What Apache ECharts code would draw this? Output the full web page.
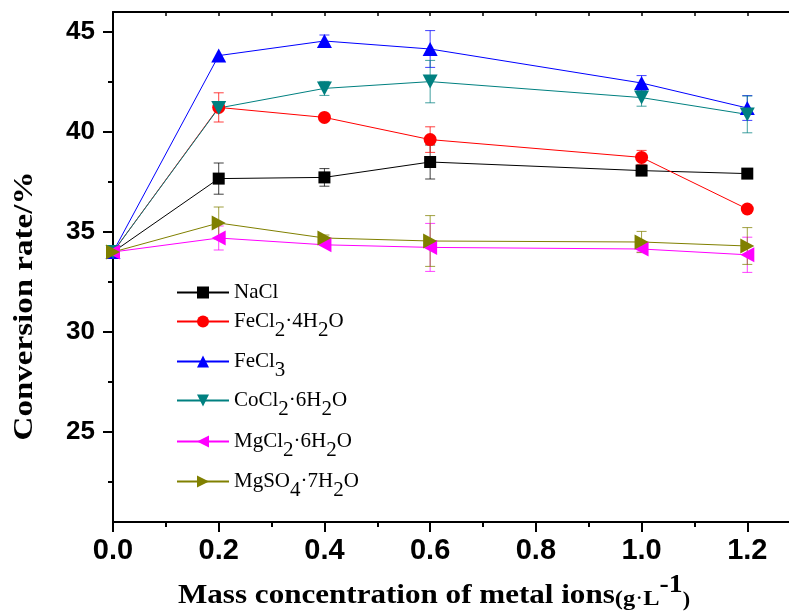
<!DOCTYPE html>
<html>
<head>
<meta charset="utf-8">
<script src="https://cdn.jsdelivr.net/npm/echarts@6/dist/echarts.min.js"></script>
<style>
  html, body { margin: 0; padding: 0; background: #ffffff; }
  #chart { width: 789px; height: 611px; }
</style>
</head>
<body>
<div id="chart"></div>
<script>
// Mass concentration of metal ions (g·L-1)
const concentrations = [0, 0.2, 0.4, 0.6, 1.0, 1.2];

// Salt names (digits after a letter are drawn as subscripts)
const saltNames = ['NaCl', 'FeCl2·4H2O', 'FeCl3', 'CoCl2·6H2O', 'MgCl2·6H2O', 'MgSO4·7H2O'];

// Conversion rate (%)
const naclRate  = [34.0, 37.67, 37.73, 38.50, 38.07, 37.92];
const fecl2Rate = [34.0, 41.23, 40.73, 39.62, 38.73, 36.15];
const fecl3Rate = [34.0, 43.82, 44.55, 44.15, 42.45, 41.20];
const cocl2Rate = [34.0, 41.20, 42.18, 42.52, 41.72, 40.88];
const mgcl2Rate = [34.0, 34.70, 34.36, 34.23, 34.15, 33.86];
const mgso4Rate = [34.0, 35.45, 34.70, 34.55, 34.50, 34.30];

// Standard deviations (null = no error bar)
const naclErr  = [null, 0.78, 0.44, 0.85, null, null];
const fecl2Err = [null, 0.73, null, 0.64, 0.35, null];
const fecl3Err = [null, null, 0.30, 0.92, 0.37, 0.62];
const cocl2Err = [null, null, 0.35, 1.06, 0.43, 0.92];
const mgcl2Err = [null, 0.60, null, 1.20, 0.15, 0.88];
const mgso4Err = [null, 0.80, 0.15, 1.27, 0.53, 0.92];

const rates  = [naclRate, fecl2Rate, fecl3Rate, cocl2Rate, mgcl2Rate, mgso4Rate];
const errors = [naclErr, fecl2Err, fecl3Err, cocl2Err, mgcl2Err, mgso4Err];

const colors = ['#000000', '#ff0000', '#0000ff', '#008080', '#ff00ff', '#808000'];
const symbols = ['rect', 'circle', 'triangle', 'triangle', 'triangle', 'triangle'];
const symbolRotations = [0, 0, 0, 180, 90, -90];
const symbolSizes = [12, 13, [15, 14], [15, 14], [15, 14], [15, 14]];

const SERIF = '"Liberation Serif", "Times New Roman", serif';
const SANS = '"Liberation Sans", Arial, sans-serif';

// Turn "FeCl2·4H2O" into rich text with subscript digits
function richName(name) {
  let out = '';
  let buf = '';
  for (let i = 0; i < name.length; i++) {
    const c = name[i];
    const prev = i > 0 ? name[i - 1] : '';
    if (/[0-9]/.test(c) && /[A-Za-z]/.test(prev)) {
      if (buf) { out += '{n|' + buf + '}'; buf = ''; }
      out += '{s|' + c + '}';
    } else {
      buf += c;
    }
  }
  if (buf) out += '{n|' + buf + '}';
  return out;
}
function hasSub(name) { return /[A-Za-z][0-9]/.test(name); }

const legendRich = {
  n: { fontSize: 21, fontFamily: SERIF, color: '#000', lineHeight: 24, verticalAlign: 'middle' },
  s: { fontSize: 21, fontFamily: SERIF, color: '#000', lineHeight: 24, verticalAlign: 'middle', padding: [18, 0, 0, 0] }
};

// Legend rows (icon centre y)
const legendRowY = [294, 323, 363, 402, 443, 483];
const legends = saltNames.map((name, i) => ({
  data: [name],
  left: 176,
  top: legendRowY[i] - (hasSub(name) ? 21 : 12),
  padding: 0,
  itemWidth: 52,
  itemHeight: 15,
  selectedMode: false,
  formatter: richName,
  textStyle: { rich: legendRich }
}));

const lineSeries = saltNames.map((name, i) => ({
  name: name,
  type: 'line',
  xAxisIndex: 0,
  yAxisIndex: 0,
  data: concentrations.map((x, k) => [x, rates[i][k]]),
  symbol: symbols[i],
  symbolSize: symbolSizes[i],
  symbolRotate: symbolRotations[i],
  showAllSymbol: true,
  color: colors[i],
  lineStyle: { width: 1, color: colors[i] },
  itemStyle: { color: colors[i] },
  z: 3,
  animation: false
}));

function errorBarItem(params, api) {
  const x = api.value(0), y = api.value(1), e = api.value(2);
  const top = api.coord([x, y + e]);
  const bot = api.coord([x, y - e]);
  const half = 5;
  const style = { stroke: api.visual('color'), lineWidth: 1, opacity: 0.75 };
  return {
    type: 'group',
    children: [
      { type: 'line', shape: { x1: top[0], y1: top[1], x2: bot[0], y2: bot[1] }, style: style },
      { type: 'line', shape: { x1: top[0] - half, y1: top[1], x2: top[0] + half, y2: top[1] }, style: style },
      { type: 'line', shape: { x1: bot[0] - half, y1: bot[1], x2: bot[0] + half, y2: bot[1] }, style: style }
    ]
  };
}

const errorSeries = saltNames.map((name, i) => ({
  name: name + ' error',
  type: 'custom',
  xAxisIndex: 0,
  yAxisIndex: 0,
  renderItem: errorBarItem,
  itemStyle: { color: colors[i] },
  data: concentrations
    .map((x, k) => [x, rates[i][k], errors[i][k]])
    .filter(d => d[2] !== null),
  z: 2,
  silent: true,
  animation: false
}));

const blackLine = { show: true, lineStyle: { color: '#000', width: 2 } };

const option = {
  backgroundColor: '#ffffff',
  animation: false,
  grid: [
    // plot area
    { left: 113, top: 12, height: 510, right: -64, outerBoundsMode: 'none', containLabel: false },
    // major y ticks and labels (25 … 45)
    { left: 113, top: 32, height: 400, width: 100, outerBoundsMode: 'none', containLabel: false },
    // minor y ticks (22.5 … 42.5)
    { left: 113, top: 82, height: 400, width: 100, outerBoundsMode: 'none', containLabel: false }
  ],
  xAxis: [
    {
      type: 'value', gridIndex: 0, position: 'bottom',
      min: 0, max: 1.4, interval: 0.2,
      axisLine: blackLine,
      axisTick: { show: true, inside: false, length: 10, lineStyle: { color: '#000', width: 2 } },
      minorTick: { show: true, splitNumber: 2, length: 5, lineStyle: { color: '#000', width: 2 } },
      axisLabel: {
        show: true, margin: 14, color: '#000', fontSize: 29, fontWeight: 'bold', fontFamily: SANS,
        showMaxLabel: false,
        formatter: v => v.toFixed(1)
      },
      splitLine: { show: false }, minorSplitLine: { show: false }
    },
    {
      type: 'value', gridIndex: 0, position: 'top',
      min: 0, max: 1.4, interval: 0.2,
      axisLine: blackLine,
      axisTick: { show: true, inside: true, length: 4, lineStyle: { color: '#000', width: 1.5 } },
      minorTick: { show: true, splitNumber: 2, length: 4, lineStyle: { color: '#000', width: 1.5 } },
      axisLabel: { show: false },
      splitLine: { show: false }
    },
    { type: 'value', gridIndex: 1, show: false, min: 0, max: 1 },
    { type: 'value', gridIndex: 2, show: false, min: 0, max: 1 }
  ],
  yAxis: [
    {
      type: 'value', gridIndex: 0, position: 'left',
      min: 20.5, max: 46,
      axisLine: blackLine,
      axisTick: { show: false },
      axisLabel: { show: false },
      splitLine: { show: false }
    },
    {
      type: 'value', gridIndex: 1, position: 'left',
      min: 25, max: 45, interval: 5,
      axisLine: { show: false },
      axisTick: { show: true, inside: false, length: 10, lineStyle: { color: '#000', width: 2 } },
      axisLabel: { show: true, margin: 18, color: '#000', fontSize: 26, fontWeight: 'bold', fontFamily: SANS },
      splitLine: { show: false }
    },
    {
      type: 'value', gridIndex: 2, position: 'left',
      min: 22.5, max: 42.5, interval: 5,
      axisLine: { show: false },
      axisTick: { show: true, inside: false, length: 5, lineStyle: { color: '#000', width: 2 } },
      axisLabel: { show: false },
      splitLine: { show: false }
    }
  ],
  legend: legends,
  graphic: [
    {
      type: 'text', x: 25, y: 306, rotation: Math.PI / 2, scaleX: 1.18,
      style: {
        text: 'Conversion rate/%', fill: '#000',
        fontSize: 28, fontWeight: 'bold', fontFamily: SERIF,
        align: 'center', verticalAlign: 'middle'
      }
    },
    {
      type: 'text', x: 178, y: 596, scaleX: 1.11,
      style: {
        text: '{t|Mass concentration of metal ions}{p|(g}{d|·}{p|L}{u|-1}{q|)}',
        align: 'left', verticalAlign: 'middle',
        rich: {
          t: { fontSize: 28, fontWeight: 'bold', fontFamily: SERIF, fill: '#000', lineHeight: 32, verticalAlign: 'middle' },
          p: { fontSize: 22, fontWeight: 'bold', fontFamily: SERIF, fill: '#000', lineHeight: 26, verticalAlign: 'middle', padding: [6, 0, 0, 0] },
          d: { fontSize: 16, fontWeight: 'bold', fontFamily: SERIF, fill: '#000', lineHeight: 20, verticalAlign: 'middle', padding: [6, 1, 0, 1] },
          u: { fontSize: 25, fontWeight: 'bold', fontFamily: SERIF, fill: '#000', lineHeight: 28, verticalAlign: 'middle', padding: [0, 0, 20, 0] },
          q: { fontSize: 20, fontWeight: 'bold', fontFamily: SERIF, fill: '#000', lineHeight: 24, verticalAlign: 'middle', padding: [10, 0, 0, 0] }
        }
      }
    }
  ],
  series: errorSeries.concat(lineSeries)
};

const chart = echarts.init(document.getElementById('chart'), null, { renderer: 'canvas' });
chart.setOption(option);
</script>
</body>
</html>
